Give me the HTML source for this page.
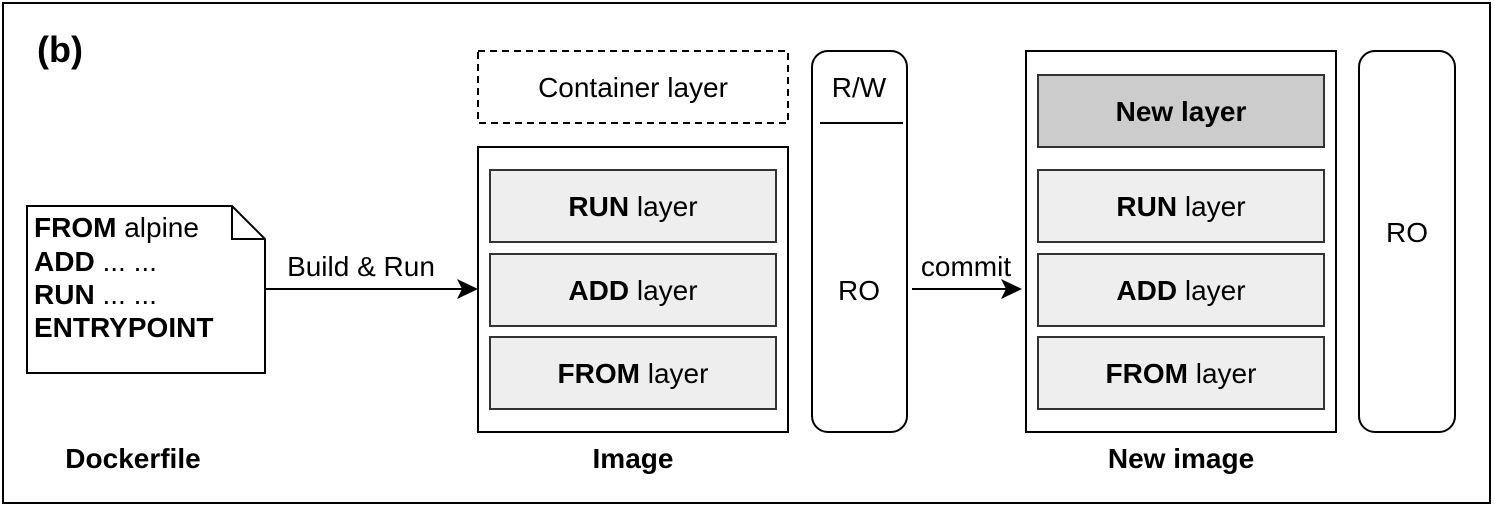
<!DOCTYPE html>
<html><head><style>
html,body{margin:0;padding:0;background:#fff;}
svg{display:block;font-family:"Liberation Sans",Arial,sans-serif;}
</style></head><body>
<svg width="1495" height="508" viewBox="0 0 1495 508" xmlns="http://www.w3.org/2000/svg">
<rect x="3" y="3" width="1487" height="500" fill="#fff" stroke="#000" stroke-width="2"/>
<text x="37" y="62" font-size="36" font-weight="bold">(b)</text>

<!-- Dockerfile note -->
<path d="M27 206 H232 L265 239 V373 H27 Z" fill="#fff" stroke="#000" stroke-width="2"/>
<path d="M232 206 V239 H265" fill="none" stroke="#000" stroke-width="2"/>
<g font-size="28">
<text x="34" y="237"><tspan font-weight="bold">FROM</tspan> alpine</text>
<text x="34" y="271"><tspan font-weight="bold">ADD</tspan> ... ...</text>
<text x="34" y="304"><tspan font-weight="bold">RUN</tspan> ... ...</text>
<text x="34" y="337" font-weight="bold">ENTRYPOINT</text>
</g>
<text x="133" y="468" font-size="28" font-weight="bold" text-anchor="middle">Dockerfile</text>

<!-- Build & Run arrow -->
<line x1="265" y1="289" x2="462" y2="289" stroke="#000" stroke-width="2"/>
<path d="M478 289 L457 279 L462 289 L457 299 Z" fill="#000"/>
<text x="361" y="276" font-size="28" text-anchor="middle">Build &amp; Run</text>

<!-- Container layer -->
<rect x="478" y="51" width="310" height="72" fill="#fff" stroke="#000" stroke-width="2" stroke-dasharray="7,5"/>
<text x="633" y="97" font-size="28" text-anchor="middle">Container layer</text>

<!-- Image -->
<rect x="478" y="147" width="310" height="285" fill="#fff" stroke="#000" stroke-width="2"/>
<g stroke="#333" stroke-width="2" fill="#eee">
<rect x="490" y="170" width="286" height="72"/>
<rect x="490" y="254" width="286" height="72"/>
<rect x="490" y="337" width="286" height="72"/>
</g>
<g font-size="28" text-anchor="middle">
<text x="633" y="216"><tspan font-weight="bold">RUN</tspan> layer</text>
<text x="633" y="300"><tspan font-weight="bold">ADD</tspan> layer</text>
<text x="633" y="383"><tspan font-weight="bold">FROM</tspan> layer</text>
</g>
<text x="633" y="468" font-size="28" font-weight="bold" text-anchor="middle">Image</text>

<!-- R/W pill -->
<rect x="812" y="51" width="95" height="381" rx="16" fill="#fff" stroke="#000" stroke-width="2"/>
<line x1="820" y1="123" x2="903" y2="123" stroke="#000" stroke-width="2"/>
<text x="859" y="97" font-size="28" text-anchor="middle">R/W</text>
<text x="859" y="300" font-size="28" text-anchor="middle">RO</text>

<!-- commit arrow -->
<line x1="912" y1="289" x2="1006" y2="289" stroke="#000" stroke-width="2"/>
<path d="M1022 289 L1001 279 L1006 289 L1001 299 Z" fill="#000"/>
<text x="966" y="276" font-size="28" text-anchor="middle">commit</text>

<!-- New image -->
<rect x="1026" y="51" width="310" height="381" fill="#fff" stroke="#000" stroke-width="2"/>
<g stroke="#333" stroke-width="2">
<rect x="1038" y="75" width="286" height="72" fill="#ccc"/>
<rect x="1038" y="170" width="286" height="72" fill="#eee"/>
<rect x="1038" y="254" width="286" height="72" fill="#eee"/>
<rect x="1038" y="337" width="286" height="72" fill="#eee"/>
</g>
<g font-size="28" text-anchor="middle">
<text x="1181" y="121" font-weight="bold">New layer</text>
<text x="1181" y="216"><tspan font-weight="bold">RUN</tspan> layer</text>
<text x="1181" y="300"><tspan font-weight="bold">ADD</tspan> layer</text>
<text x="1181" y="383"><tspan font-weight="bold">FROM</tspan> layer</text>
</g>
<text x="1181" y="468" font-size="28" font-weight="bold" text-anchor="middle">New image</text>

<!-- RO pill -->
<rect x="1359" y="51" width="96" height="381" rx="16" fill="#fff" stroke="#000" stroke-width="2"/>
<text x="1407" y="242" font-size="28" text-anchor="middle">RO</text>
</svg>
</body></html>
